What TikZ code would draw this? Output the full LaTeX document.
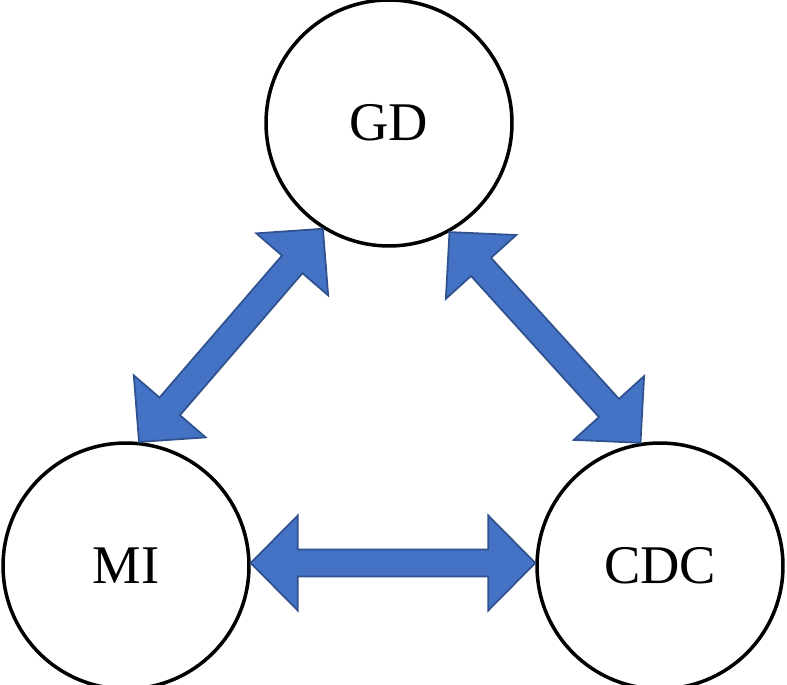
\documentclass[tikz,border=0pt]{standalone}
\usepackage{fontspec}
\setmainfont{Liberation Serif}
\usetikzlibrary{calc}
\definecolor{arrFill}{HTML}{4472C4}
\definecolor{arrLine}{HTML}{2F528F}
\tikzset{
  topic/.style={draw, circle, line width=2pt, minimum size=4.92cm, inner sep=0pt,
    font=\fontsize{31}{33}\selectfont},
  blockarrow/.style={fill=arrFill, draw=arrLine, line width=1pt, line join=miter}
}
% block double arrow between two named points
\newcommand{\dblarrow}[2]{%
  \draw[blockarrow] (#1)
    -- ($(#1)!0.94cm!(#2)!0.95cm!90:(#2)$)
    -- ($(#1)!0.94cm!(#2)!0.27cm!90:(#2)$)
    -- ($(#2)!0.94cm!(#1)!0.27cm!90:(#2)$)
    -- ($(#2)!0.94cm!(#1)!0.95cm!90:(#2)$)
    -- (#2)
    -- ($(#2)!0.94cm!(#1)!0.95cm!-90:(#2)$)
    -- ($(#2)!0.94cm!(#1)!0.27cm!-90:(#2)$)
    -- ($(#1)!0.94cm!(#2)!0.27cm!-90:(#2)$)
    -- ($(#1)!0.94cm!(#2)!0.95cm!-90:(#2)$)
    -- cycle;
}

\begin{document}
\begin{tikzpicture}[x=0.02cm,y=-0.02cm]
\useasboundingbox (0,0) rectangle (787,685);
% circles
\node[topic] (gd)  at (389,123) {GD};
\node[topic] (mi)  at (126,566) {MI};
\node[topic] (cdc) at (660,566) {CDC};
% arrow ends
\coordinate (gdL)  at (gd.238);
\coordinate (miT)  at (mi.84);
\coordinate (gdR)  at (gd.-61);
\coordinate (cdcT) at (cdc.99);
\coordinate (miR)  at ([yshift=0.06cm]mi.east);
\coordinate (cdcL) at ([yshift=0.06cm]cdc.west);
% arrows
\dblarrow{gdL}{miT}
\dblarrow{gdR}{cdcT}
\dblarrow{miR}{cdcL}
\end{tikzpicture}
\end{document}
